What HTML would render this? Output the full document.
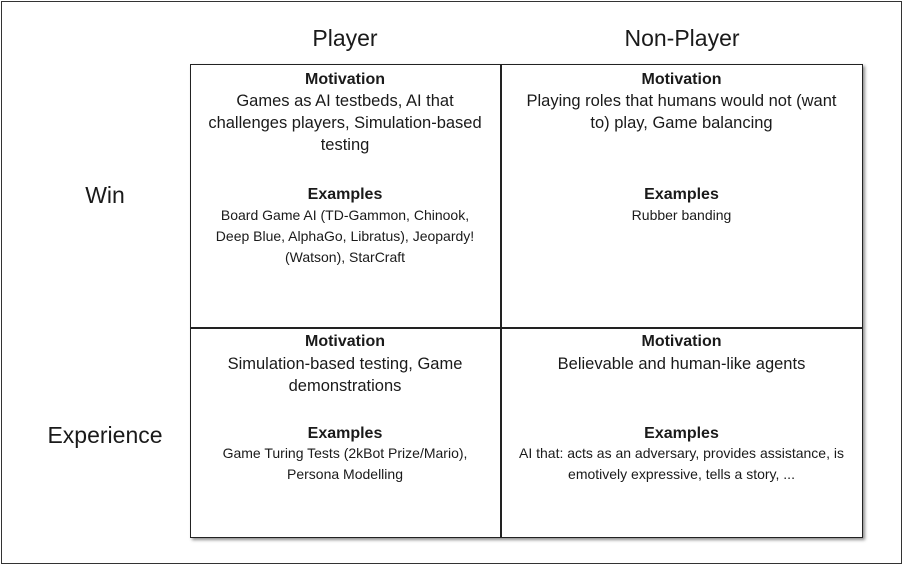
<!DOCTYPE html>
<html><head><meta charset="utf-8"><style>
*{margin:0;padding:0;box-sizing:border-box}
body{width:903px;height:565px;background:#fff;position:relative;overflow:hidden;font-family:"Liberation Sans",sans-serif;color:#1a1a1a}
.outer{position:absolute;left:1px;top:1px;width:901px;height:563px;border:1.5px solid #333}
.grid{position:absolute;left:190px;top:64px;width:673px;height:474px;border:1.5px solid #222;box-shadow:2px 2px 3px rgba(0,0,0,0.45)}
.v{position:absolute;left:500px;top:64px;width:1.5px;height:474px;background:#222}
.h{position:absolute;left:190px;top:327px;width:673px;height:1.5px;background:#222}
.t{position:absolute;text-align:center;white-space:nowrap}
.hd{font-size:23px;line-height:28px}
.b{font-weight:bold;font-size:16px;line-height:22px}
.m{font-size:16.5px;line-height:22px}
.e{font-size:14px;line-height:21px}
</style></head><body>
<div class="outer"></div>
<div class="grid"></div>
<div class="v"></div>
<div class="h"></div>
<div class="t hd" style="left:245px;width:200px;top:24px">Player</div>
<div class="t hd" style="left:582px;width:200px;top:24px">Non-Player</div>
<div class="t hd" style="left:45px;width:120px;top:181px">Win</div>
<div class="t hd" style="left:25px;width:160px;top:421px">Experience</div>

<div class="t b" style="left:190px;width:310px;top:69px">Motivation</div>
<div class="t m" style="left:190px;width:310px;top:90px">Games as AI testbeds, AI that<br>challenges players, Simulation-based<br>testing</div>
<div class="t b" style="left:190px;width:310px;top:184px">Examples</div>
<div class="t e" style="left:190px;width:310px;top:205px">Board Game AI (TD-Gammon, Chinook,<br>Deep Blue, AlphaGo, Libratus), Jeopardy!<br>(Watson), StarCraft</div>

<div class="t b" style="left:500px;width:363px;top:69px">Motivation</div>
<div class="t m" style="left:500px;width:363px;top:90px">Playing roles that humans would not (want<br>to) play, Game balancing</div>
<div class="t b" style="left:500px;width:363px;top:184px">Examples</div>
<div class="t e" style="left:500px;width:363px;top:205px">Rubber banding</div>

<div class="t b" style="left:190px;width:310px;top:331px">Motivation</div>
<div class="t m" style="left:190px;width:310px;top:353px">Simulation-based testing, Game<br>demonstrations</div>
<div class="t b" style="left:190px;width:310px;top:423px">Examples</div>
<div class="t e" style="left:190px;width:310px;top:443px">Game Turing Tests (2kBot Prize/Mario),<br>Persona Modelling</div>

<div class="t b" style="left:500px;width:363px;top:331px">Motivation</div>
<div class="t m" style="left:500px;width:363px;top:353px">Believable and human-like agents</div>
<div class="t b" style="left:500px;width:363px;top:423px">Examples</div>
<div class="t e" style="left:500px;width:363px;top:443px">AI that: acts as an adversary, provides assistance, is<br>emotively expressive, tells a story, ...</div>
</body></html>
